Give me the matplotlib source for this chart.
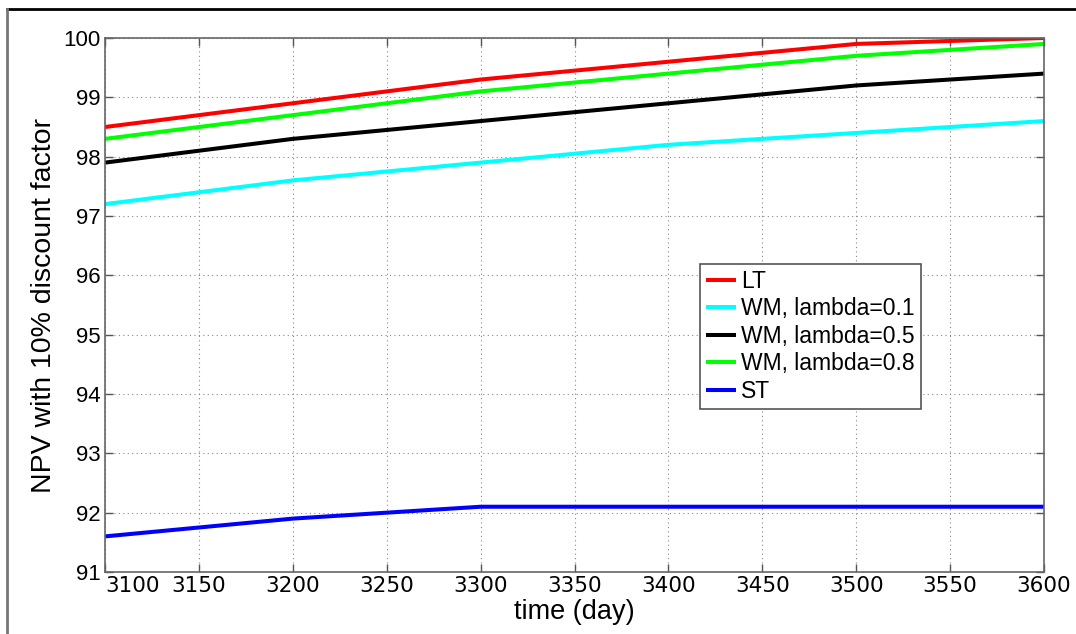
import matplotlib
matplotlib.use("Agg")
import matplotlib.pyplot as plt
from matplotlib.lines import Line2D

days = [3100, 3200, 3300, 3400, 3500, 3600]
lt = [98.5, 98.9, 99.3, 99.6, 99.9, 100.0]
wm01 = [97.2, 97.6, 97.9, 98.2, 98.4, 98.6]
wm05 = [97.9, 98.3, 98.6, 98.9, 99.2, 99.4]
wm08 = [98.3, 98.7, 99.1, 99.4, 99.7, 99.9]
st = [91.6, 91.9, 92.1, 92.1, 92.1, 92.1]

labels = ["LT", "WM, lambda=0.1", "WM, lambda=0.5", "WM, lambda=0.8", "ST"]
colors = ["#ff0000", "#00ffff", "#000000", "#00ff00", "#0000ff"]
series = [lt, wm01, wm05, wm08, st]

xticks = list(range(3100, 3601, 50))
yticks = list(range(91, 101))

plt.rcParams['font.family'] = ['Liberation Sans', 'DejaVu Sans']

fig = plt.figure(figsize=(10.76, 6.34), dpi=100)
ax = fig.add_axes([105/1076, 1-572/634, (1044-105)/1076, (572-38)/634])

for vals, lab, col in zip(series, labels, colors):
    ax.plot(days, vals, color=col, lw=2.9, label=lab, solid_capstyle='butt')

ax.set_xlim(3100, 3600)
ax.set_ylim(91, 100)
ax.set_xticks(xticks)
ax.set_yticks(yticks)
ax.set_xticklabels([str(t) for t in xticks], fontsize=15.5, family='DejaVu Sans')
ax.set_yticklabels([str(t) for t in yticks], fontsize=16)
ax.get_xticklabels()[0].set_horizontalalignment('left')
ax.tick_params(direction='in', length=6, width=1, color='#555555', top=True, right=True, pad=3)
ax.grid(True, linestyle=(0, (1, 3)), color='#888888', lw=0.8)
for s in ax.spines.values():
    s.set_color('#666666')
    s.set_linewidth(1.2)

ax.set_xlabel("time (day)", fontsize=19.5, labelpad=2)
ax.set_ylabel("NPV with 10% discount factor", fontsize=20.5, labelpad=5)

leg = ax.legend(loc='upper left', bbox_to_anchor=((700-105)/939, (572-264)/534),
                fontsize=16.5, handlelength=1.3, handletextpad=0.25, borderpad=0.25,
                labelspacing=0.2, fancybox=False, framealpha=1, borderaxespad=0)
leg.get_frame().set_edgecolor('#555555')
leg.get_frame().set_linewidth(1.2)

# figure border lines (top and left)
fig.add_artist(Line2D([7/1076, 1], [1-9/634, 1-9/634], color='black', lw=2, transform=fig.transFigure))
fig.add_artist(Line2D([7/1076, 7/1076], [0, 1-9/634], color='#777777', lw=2, transform=fig.transFigure))

fig.savefig("out.png", dpi=100)
